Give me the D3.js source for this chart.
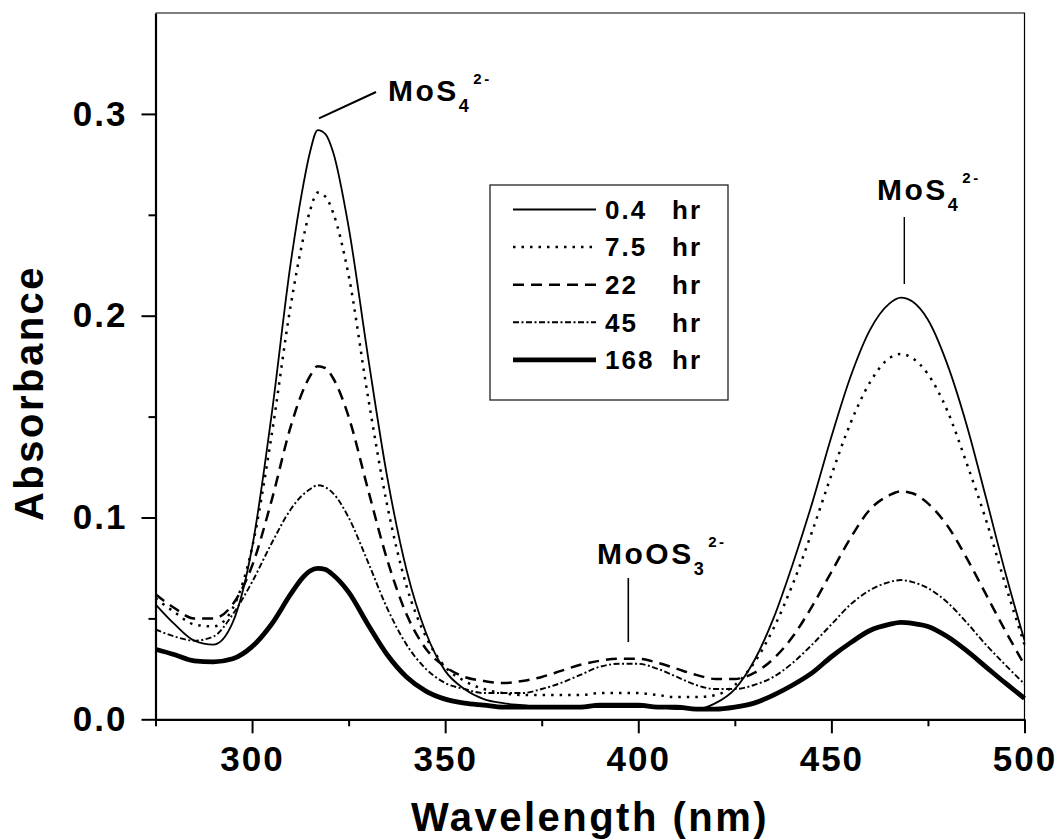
<!DOCTYPE html>
<html>
<head>
<meta charset="utf-8">
<script src="https://cdn.jsdelivr.net/npm/d3@7"></script>
<style>
  body { margin: 0; background: #fff; }
  text { font-family: "Liberation Sans", Arial, sans-serif; font-weight: bold; fill: #000; }
</style>
</head>
<body>
<svg id="chart" width="1058" height="840"></svg>
<script>
// wavelengths (nm) the spectra were read at
var wavelength = [275,280,285,290,295,300,305,310,313,315,317,319,321,325,330,335,340,345,350,355,
                  360,365,370,375,380,385,390,395,400,405,410,415,420,425,430,435,440,445,450,455,
                  460,465,468,471,475,480,485,490,495,500];

// absorbance for each reaction time
var abs04 = [0.057,0.047,0.039,0.037,0.048,0.085,0.150,0.226,0.262,0.281,0.292,0.290,0.281,0.244,0.180,0.120,0.074,0.043,0.024,0.015,
             0.010,0.008,0.007,0.006,0.006,0.006,0.006,0.006,0.006,0.006,0.005,0.005,0.008,0.015,0.029,0.050,0.077,0.107,0.140,0.170,
             0.193,0.206,0.209,0.207,0.198,0.176,0.146,0.110,0.073,0.039];
var abs75 = [0.060,0.053,0.047,0.046,0.055,0.085,0.140,0.205,0.236,0.252,0.261,0.259,0.251,0.220,0.160,0.106,0.066,0.041,0.026,0.019,
             0.015,0.013,0.012,0.012,0.012,0.012,0.013,0.013,0.013,0.012,0.011,0.011,0.012,0.017,0.028,0.045,0.067,0.093,0.121,0.147,
             0.167,0.179,0.181,0.179,0.171,0.153,0.127,0.099,0.067,0.037];
var abs22 = [0.062,0.055,0.050,0.050,0.057,0.076,0.108,0.145,0.162,0.170,0.175,0.174,0.169,0.150,0.114,0.079,0.052,0.035,0.026,0.021,
             0.019,0.018,0.019,0.021,0.024,0.027,0.029,0.030,0.030,0.028,0.025,0.022,0.020,0.020,0.023,0.030,0.041,0.056,0.073,0.090,
             0.104,0.111,0.113,0.112,0.107,0.096,0.080,0.062,0.044,0.027];
var abs45 = [0.0445,0.041,0.039,0.041,0.052,0.068,0.087,0.104,0.111,0.114,0.116,0.115,0.112,0.100,0.078,0.055,0.037,0.025,0.018,0.015,
             0.013,0.013,0.013,0.015,0.018,0.022,0.026,0.0275,0.0275,0.025,0.021,0.017,0.015,0.015,0.017,0.021,0.028,0.037,0.047,0.057,
             0.064,0.068,0.069,0.068,0.065,0.058,0.048,0.037,0.027,0.0175];
var abs168 = [0.0347,0.032,0.029,0.0285,0.030,0.036,0.047,0.062,0.070,0.0735,0.0748,0.0742,0.0715,0.063,0.047,0.032,0.021,0.014,0.010,0.008,
              0.007,0.006,0.006,0.006,0.006,0.006,0.007,0.007,0.007,0.006,0.006,0.005,0.005,0.006,0.008,0.012,0.017,0.023,0.031,0.038,
              0.044,0.047,0.048,0.0475,0.046,0.041,0.034,0.026,0.018,0.0104];

var times = ["0.4", "7.5", "22", "45", "168"];
var xTicks = [300, 350, 400, 450, 500];
var xMinor = [275, 325, 375, 425, 475];
var yTicks = [0.0, 0.1, 0.2, 0.3];
var yMinor = [0.05, 0.15, 0.25];

var allSeries = [abs04, abs75, abs22, abs45, abs168];
var styles = [
    {w: 1.8, dash: null},
    {w: 2.5, dash: "2.5,6"},
    {w: 2.5, dash: "11,7"},
    {w: 1.9, dash: "6,2.5,2,2.5"},
    {w: 4.8, dash: null}
];

// plot box (pixels)
var padL = 155.5, padR = 1024.5, padT = 13, padB = 719.3;

var svg = d3.select("#chart");

var x = d3.scaleLinear().domain([275, 500]).range([padL, padR]);
var y = d3.scaleLinear().domain([0, 0.35]).range([padB, padT]);

// frame top and right
svg.append("path")
    .attr("d", "M" + padL + "," + padT + "H" + padR + "V" + padB)
    .attr("fill", "none")
    .attr("stroke", "#000")
    .attr("stroke-width", 1.2);

// x axis
svg.append("g")
    .attr("transform", "translate(0," + padB + ")")
    .call(d3.axisBottom(x).tickValues(xTicks).tickSize(14).tickSizeOuter(0).tickPadding(13).tickFormat(d3.format("d")));
svg.append("g")
    .attr("transform", "translate(0," + padB + ")")
    .call(d3.axisBottom(x).tickValues(xMinor).tickSize(7).tickFormat(""))
    .select(".domain").remove();

// y axis
svg.append("g")
    .attr("transform", "translate(" + padL + ",0)")
    .call(d3.axisLeft(y).tickValues(yTicks).tickSize(14).tickSizeOuter(0).tickPadding(14).tickFormat(d3.format(".1f")));
svg.append("g")
    .attr("transform", "translate(" + padL + ",0)")
    .call(d3.axisLeft(y).tickValues(yMinor).tickSize(7).tickFormat(""))
    .select(".domain").remove();

svg.selectAll(".domain").attr("stroke-width", 2.2);
svg.selectAll(".tick line").attr("stroke-width", 2);
svg.selectAll(".tick text")
    .style("font-family", "'Liberation Sans', Arial, sans-serif")
    .style("font-weight", "bold")
    .style("font-size", "35px")
    .style("letter-spacing", "2px");

// axis titles
svg.append("text")
    .attr("x", (padL + padR) / 2)
    .attr("y", 831)
    .attr("text-anchor", "middle")
    .style("font-size", "40px")
    .style("letter-spacing", "2.5px")
    .text("Wavelength (nm)");

svg.append("text")
    .attr("transform", "translate(43,393) rotate(-90)")
    .attr("text-anchor", "middle")
    .style("font-size", "40px")
    .style("letter-spacing", "2.5px")
    .text("Absorbance");

// spectra
var line = d3.line()
    .x(function(d, i){ return x(wavelength[i]); })
    .y(function(d){ return y(d); })
    .curve(d3.curveMonotoneX);

svg.selectAll(".spectrum")
    .data(allSeries)
    .enter()
    .append("path")
    .attr("class", "spectrum")
    .attr("d", line)
    .attr("fill", "none")
    .attr("stroke", "#000")
    .attr("stroke-width", function(d, i){ return styles[i].w; })
    .attr("stroke-dasharray", function(d, i){ return styles[i].dash; });

// legend
svg.append("rect")
    .attr("x", 490).attr("y", 185)
    .attr("width", 238).attr("height", 215)
    .attr("fill", "#fff")
    .attr("stroke", "#222")
    .attr("stroke-width", 1.3);

var legendRow = svg.selectAll(".legendRow")
    .data(times)
    .enter()
    .append("g")
    .attr("class", "legendRow")
    .attr("transform", function(d, i){ return "translate(0," + (209.5 + i * 37.6) + ")"; });

legendRow.append("line")
    .attr("x1", 513).attr("x2", 596)
    .attr("stroke", "#000")
    .attr("stroke-width", function(d, i){ return styles[i].w; })
    .attr("stroke-dasharray", function(d, i){ return styles[i].dash; });

legendRow.append("text")
    .attr("x", 605).attr("dy", "0.36em")
    .style("font-size", "26px")
    .style("letter-spacing", "2px")
    .text(function(d){ return d; });

legendRow.append("text")
    .attr("x", 672).attr("dy", "0.36em")
    .style("font-size", "26px")
    .style("letter-spacing", "2px")
    .text("hr");

// species labels with sub- and superscripts
function species(xPos, yPos, main, sub) {
    var t = svg.append("text")
        .attr("x", xPos).attr("y", yPos)
        .style("font-size", "30px")
        .style("letter-spacing", "2.5px");
    t.append("tspan").text(main);
    t.append("tspan").attr("dy", 11).style("font-size", "18px").text(sub);
    t.append("tspan").attr("dx", 2).attr("dy", -28).style("font-size", "15px").text("2-");
}

species(388, 100.7, "MoS", "4");
species(877, 200, "MoS", "4");
species(597, 564.3, "MoOS", "3");

// leader lines
svg.append("line")
    .attr("x1", 319).attr("y1", 118.3).attr("x2", 376).attr("y2", 92)
    .attr("stroke", "#000").attr("stroke-width", 2);
svg.append("line")
    .attr("x1", 904.3).attr("y1", 217).attr("x2", 904.3).attr("y2", 284)
    .attr("stroke", "#000").attr("stroke-width", 1.4);
svg.append("line")
    .attr("x1", 628.3).attr("y1", 578).attr("x2", 628.3).attr("y2", 642)
    .attr("stroke", "#000").attr("stroke-width", 1.6);
</script>
</body>
</html>
